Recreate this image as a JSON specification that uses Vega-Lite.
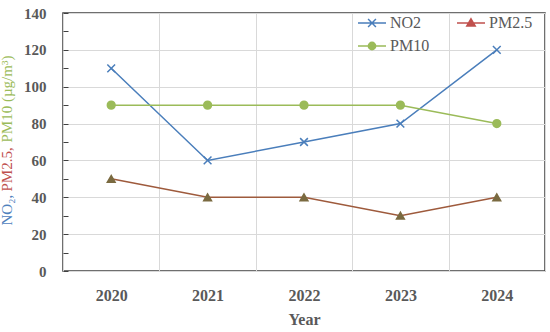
{
  "$schema": "https://vega.github.io/schema/vega-lite/v6.json",
  "width": 482,
  "height": 258,
  "autosize": {"type": "none"},
  "padding": {"left": 63, "top": 13, "right": 5, "bottom": 61},
  "background": "white",
  "config": {
    "font": "Liberation Serif",
    "view": {"stroke": "#404040", "strokeWidth": 1.5},
    "legend": {"labelFont": "Liberation Serif", "labelFontSize": 16, "labelColor": "#595959", "symbolStrokeWidth": 1.5, "symbolOpacity": 1, "symbolSize": 784, "columnPadding": 24, "rowPadding": -5, "padding": 0, "labelOffset": 3, "direction": "horizontal"}
  },
  "data": {
    "values": [
      {"Year": "2020", "series": "NO2", "value": 110},
      {"Year": "2021", "series": "NO2", "value": 60},
      {"Year": "2022", "series": "NO2", "value": 70},
      {"Year": "2023", "series": "NO2", "value": 80},
      {"Year": "2024", "series": "NO2", "value": 120},
      {"Year": "2020", "series": "PM2.5", "value": 50},
      {"Year": "2021", "series": "PM2.5", "value": 40},
      {"Year": "2022", "series": "PM2.5", "value": 40},
      {"Year": "2023", "series": "PM2.5", "value": 30},
      {"Year": "2024", "series": "PM2.5", "value": 40},
      {"Year": "2020", "series": "PM10", "value": 90},
      {"Year": "2021", "series": "PM10", "value": 90},
      {"Year": "2022", "series": "PM10", "value": 90},
      {"Year": "2023", "series": "PM10", "value": 90},
      {"Year": "2024", "series": "PM10", "value": 80}
    ]
  },
  "encoding": {
    "x": {
      "field": "Year",
      "type": "ordinal",
      "scale": {"type": "band", "paddingInner": 0, "paddingOuter": 0},
      "axis": {
        "tickBand": "extent",
        "ticks": false,
        "tickSize": 0,
        "domain": false,
        "grid": true,
        "gridColor": "#d9d9d9",
        "gridWidth": 1,
        "labelAngle": 0,
        "labelFont": "Liberation Serif",
        "labelFontWeight": "bold",
        "labelFontSize": 16,
        "labelColor": "#595959",
        "labelPadding": 16,
        "title": "Year",
        "titleFont": "Liberation Serif",
        "titleFontSize": 16,
        "titleFontWeight": "bold",
        "titleColor": "#595959",
        "titlePadding": 8
      }
    }
  },
  "layer": [
    {
      "mark": {"type": "line", "strokeWidth": 1.5},
      "encoding": {
        "y": {
          "field": "value",
          "type": "quantitative",
          "scale": {"domain": [0, 140], "nice": false},
          "axis": {
            "orient": "left",
            "values": [0, 10, 20, 30, 40, 50, 60, 70, 80, 90, 100, 110, 120, 130, 140],
            "labelExpr": "datum.value % 20 === 0 ? datum.label : ''",
            "tickSize": -5,
            "tickColor": "#404040",
            "tickWidth": 1,
            "domain": false,
            "grid": true,
            "gridColor": "#d9d9d9",
            "gridOpacity": {"condition": {"test": "datum.value % 20 !== 0", "value": 0}, "value": 1},
            "labelFont": "Liberation Serif",
            "labelFontWeight": "bold",
            "labelFontSize": 15,
            "labelColor": "#595959",
            "labelPadding": 22,
            "title": "NO₂,",
            "titleColor": "#4F81BD",
            "titleFont": "Liberation Serif",
            "titleFontSize": 15,
            "titleFontWeight": "normal",
            "titleAngle": 270,
            "titleAlign": "left",
            "titleBaseline": "middle",
            "titleX": -57,
            "titleY": 212
          }
        },
        "color": {
          "field": "series",
          "type": "nominal",
          "scale": {"domain": ["NO2", "PM2.5", "PM10"], "range": ["#4A7EBB", "#9E5A3C", "#9BBB59"]},
          "legend": null
        }
      }
    },
    {
      "mark": {"type": "point", "strokeWidth": 1.5, "opacity": 1, "filled": false},
      "encoding": {
        "y": {
          "field": "value",
          "type": "quantitative",
          "scale": {"domain": [0, 140], "nice": false},
          "axis": {
            "orient": "left",
            "labels": false,
            "ticks": false,
            "domain": false,
            "grid": false,
            "title": "PM2.5,",
            "titleColor": "#C0504D",
            "titleFont": "Liberation Serif",
            "titleFontSize": 15,
            "titleFontWeight": "normal",
            "titleAngle": 270,
            "titleAlign": "left",
            "titleBaseline": "middle",
            "titleX": -57,
            "titleY": 178
          }
        },
        "shape": {
          "field": "series",
          "type": "nominal",
          "scale": {"domain": ["NO2", "PM2.5", "PM10"], "range": ["M-1,-1L1,1M-1,1L1,-1", "triangle-up", "circle"]},
          "legend": null
        },
        "size": {"value": 60},
        "stroke": {
          "field": "series",
          "type": "nominal",
          "scale": {"domain": ["NO2", "PM2.5", "PM10"], "range": ["#4A7EBB", "#7A6A40", "#9BBB59"]},
          "legend": null
        },
        "fill": {
          "field": "series",
          "type": "nominal",
          "scale": {"domain": ["NO2", "PM2.5", "PM10"], "range": ["#4A7EBB", "#7A6A40", "#9BBB59"]},
          "legend": null
        }
      }
    },
    {
      "mark": {"type": "point", "opacity": 0, "filled": false, "strokeWidth": 1.5},
      "encoding": {
        "y": {
          "field": "value",
          "type": "quantitative",
          "scale": {"domain": [0, 140], "nice": false},
          "axis": {
            "orient": "left",
            "labels": false,
            "ticks": false,
            "domain": false,
            "grid": false,
            "title": "PM10 (µg/m³)",
            "titleColor": "#9BBB59",
            "titleFont": "Liberation Serif",
            "titleFontSize": 15,
            "titleFontWeight": "normal",
            "titleAngle": 270,
            "titleAlign": "left",
            "titleBaseline": "middle",
            "titleX": -57,
            "titleY": 129
          }
        },
        "shape": {
          "field": "series",
          "type": "nominal",
          "scale": {"domain": ["NO2", "PM2.5", "PM10"], "range": [
            "M-1,0H1M-0.28,-0.28L0.28,0.28M-0.28,0.28L0.28,-0.28",
            "M-1,0H1M0,-0.3L0.3,0.22L-0.3,0.22Z",
            "M-1,0H1M0.26,0A0.26,0.26 0 1 1 -0.26,0A0.26,0.26 0 1 1 0.26,0Z"
          ]},
          "legend": {"title": null, "orient": "none", "legendX": 294, "legendY": -5, "columns": 2, "direction": "horizontal", "labelFont": "Liberation Serif"}
        },
        "stroke": {
          "field": "series",
          "type": "nominal",
          "scale": {"domain": ["NO2", "PM2.5", "PM10"], "range": ["#4A7EBB", "#C0504D", "#9BBB59"]},
          "legend": {"title": null, "orient": "none", "legendX": 294, "legendY": -5, "columns": 2, "direction": "horizontal", "labelFont": "Liberation Serif"}
        },
        "fill": {
          "field": "series",
          "type": "nominal",
          "scale": {"domain": ["NO2", "PM2.5", "PM10"], "range": ["#4A7EBB", "#C0504D", "#9BBB59"]},
          "legend": {"title": null, "orient": "none", "legendX": 294, "legendY": -5, "columns": 2, "direction": "horizontal", "labelFont": "Liberation Serif"}
        }
      }
    }
  ],
  "resolve": {
    "scale": {"y": "independent", "color": "independent", "shape": "independent", "stroke": "independent", "fill": "independent"},
    "axis": {"y": "independent"}
  }
}
